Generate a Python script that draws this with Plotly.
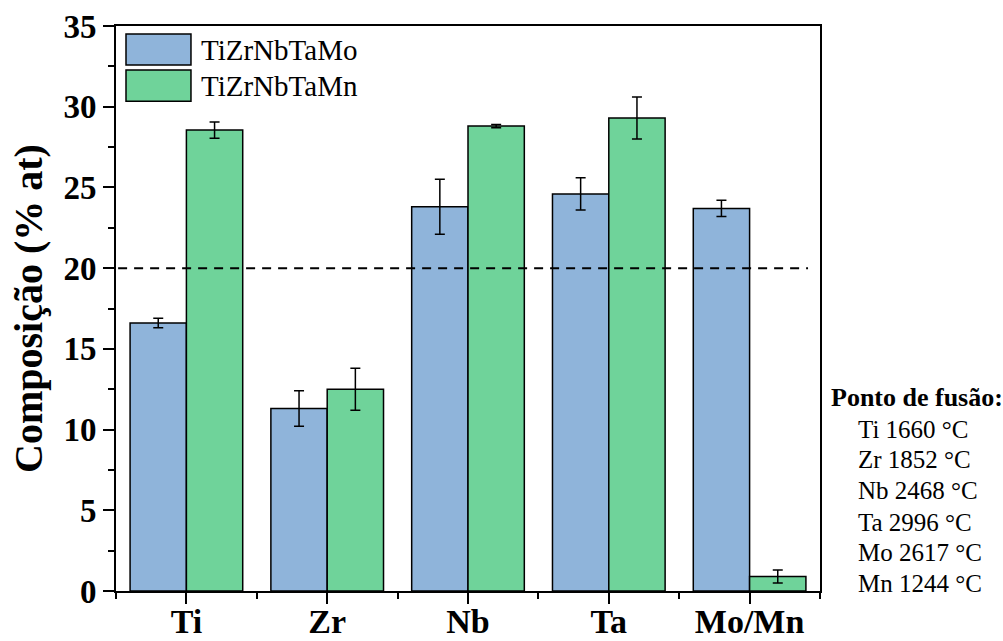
import plotly.graph_objects as go

categories = ["Ti", "Zr", "Nb", "Ta", "Mo/Mn"]
mo_values = [16.6, 11.3, 23.8, 24.6, 23.7]
mo_errors = [0.3, 1.1, 1.7, 1.0, 0.5]
mn_values = [28.55, 12.5, 28.8, 29.3, 0.9]
mn_errors = [0.5, 1.3, 0.1, 1.3, 0.4]
series_names = ["TiZrNbTaMo", "TiZrNbTaMn"]
melting_title = "Ponto de fusão:"
melting_points = ["Ti 1660 °C", "Zr 1852 °C", "Nb 2468 °C", "Ta 2996 °C",
                  "Mo 2617 °C", "Mn 1244 °C"]
reference_level = 20

BLUE = "#8FB4DA"
GREEN = "#6FD39A"
FONT = "Liberation Serif, Times New Roman, serif"

xpos = list(range(len(categories)))

fig = go.Figure()
for name, vals, errs, col in [(series_names[0], mo_values, mo_errors, BLUE),
                              (series_names[1], mn_values, mn_errors, GREEN)]:
    fig.add_trace(go.Bar(
        x=xpos, y=vals, name=name,
        marker=dict(color=col, line=dict(color="black", width=1.5)),
        error_y=dict(type="data", array=errs, visible=True,
                     color="black", thickness=1.5, width=5),
        showlegend=False,
    ))

# reference dashed line
fig.add_shape(type="line", xref="paper", yref="y", x0=0.003, x1=0.983,
              y0=reference_level, y1=reference_level,
              line=dict(color="black", width=2, dash="9px,7px"))

# custom legend
legend_rows = [(0.9858, 0.931, BLUE, series_names[0]),
               (0.922, 0.867, GREEN, series_names[1])]
for ytop, ybot, col, name in legend_rows:
    fig.add_shape(type="rect", xref="paper", yref="paper",
                  x0=0.0142, x1=0.1065, y0=ybot, y1=ytop,
                  fillcolor=col, line=dict(color="black", width=1.5))
    fig.add_annotation(xref="paper", yref="paper", x=0.118, y=(ytop + ybot) / 2,
                       text=name, showarrow=False, xanchor="left", yanchor="middle",
                       font=dict(family=FONT, size=29, color="black"))

# melting point annotations
fig.add_annotation(xref="paper", yref="paper", x=1.013, y=0.3416,
                   text="<b>" + melting_title + "</b>", showarrow=False,
                   xanchor="left", yanchor="middle",
                   font=dict(family=FONT, size=26, color="black"))
row_y = [0.285, 0.2319, 0.177, 0.122, 0.0673, 0.0124]
for txt, yy in zip(melting_points, row_y):
    fig.add_annotation(xref="paper", yref="paper", x=1.051, y=yy,
                       text=txt, showarrow=False, xanchor="left", yanchor="middle",
                       font=dict(family=FONT, size=25, color="black"))

fig.update_layout(
    width=1003, height=641,
    margin=dict(l=116, r=183, t=26, b=50, pad=0),
    paper_bgcolor="white", plot_bgcolor="white",
    barmode="group", bargap=0.2, bargroupgap=0,
    font=dict(family=FONT, color="black"),
    xaxis=dict(
        range=[-0.5, 4.5], tickmode="array", tickvals=xpos, ticktext=categories,
        automargin=False, ticklabelstandoff=-12,
        showline=True, linecolor="black", linewidth=2, mirror=True,
        ticks="outside", ticklen=11, tickwidth=2, tickcolor="black",
        tickfont=dict(family=FONT, size=34, color="black", weight="bold"),
        showgrid=False, zeroline=False,
        minor=dict(tickmode="array", tickvals=[v - 0.5 for v in xpos] + [xpos[-1] + 0.5],
                   ticks="outside", ticklen=6, tickwidth=2, tickcolor="black",
                   showgrid=False),
    ),
    yaxis=dict(
        range=[0, 35], dtick=5, tick0=0, automargin=False,
        showline=True, linecolor="black", linewidth=2, mirror=True,
        ticks="outside", ticklen=11, tickwidth=2, tickcolor="black",
        tickfont=dict(family=FONT, size=33, color="black", weight="bold"),
        showgrid=False, zeroline=False,
        title=dict(text="<b>Composição (% at)</b>",
                   font=dict(family=FONT, size=40, color="black"), standoff=8),
        minor=dict(dtick=2.5, ticks="outside", ticklen=6, tickwidth=2,
                   tickcolor="black", showgrid=False),
    ),
)

fig.write_html("out.html")
